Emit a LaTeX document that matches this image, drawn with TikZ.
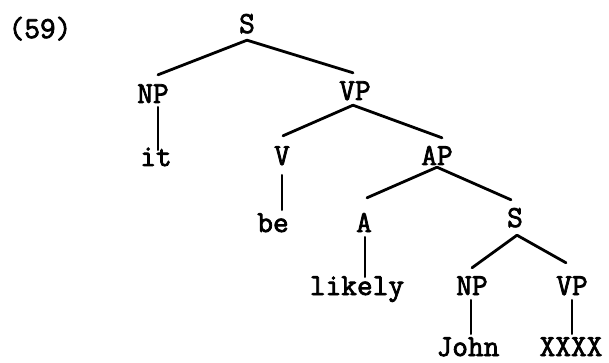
\documentclass[tikz,border=0pt]{standalone}
\usepackage{fontspec}
\newfontfamily\tyw[FakeBold=2.5]{Latin Modern Mono}
\begin{document}
\begin{tikzpicture}[x=1pt,y=-1pt,
  lab/.style={font=\tyw\fontsize{30.5}{33}\selectfont, anchor=base, inner sep=0pt, text height=16pt, text depth=0pt},
  br/.style={line width=2.8pt, line cap=round}]
\useasboundingbox (0,0) rectangle (609,363);
\node[lab] (ex) at (40,38) {(59)};
\node[lab] (S1) at (247,33) {S};
\node[lab] (NP1) at (153,103) {NP};
\node[lab] (it) at (156,166) {it};
\node[lab] (VP1) at (355,100) {VP};
\node[lab] (V) at (282,165) {V};
\node[lab] (AP) at (437,165) {AP};
\node[lab] (be) at (273,232) {be};
\node[lab] (A) at (364,232) {A};
\node[lab] (S2) at (515,227) {S};
\node[lab] (likely) at (357,295) {likely};
\node[lab] (NP2) at (472,295) {NP};
\node[lab] (VP2) at (572,295) {VP};
\node[lab] (John) at (468,356) {John};
\node[lab] (X) at (571,356) {XXXX};
% branches
\draw[br] ([yshift=-7pt]S1.south) -- ([xshift=5pt,yshift=12pt]NP1.north);
\draw[br] ([yshift=-7pt]S1.south) -- ([xshift=-2pt,yshift=11pt]VP1.north);
\draw[br] ([xshift=5pt,yshift=-4pt]NP1.south) -- ([xshift=2pt]it.north);
\draw[br] ([xshift=-2pt,yshift=-5pt]VP1.south) -- ([xshift=1pt,yshift=13pt]V.north);
\draw[br] ([xshift=-2pt,yshift=-5pt]VP1.south) -- ([xshift=5pt,yshift=11pt]AP.north);
\draw[br] ([yshift=-10pt]V.south) -- ([xshift=9pt,yshift=6pt]be.north);
\draw[br] ([yshift=-2pt]AP.south) -- ([xshift=3pt,yshift=18pt]A.north);
\draw[br] ([yshift=-2pt]AP.south) -- ([xshift=-4pt,yshift=11pt]S2.north);
\draw[br] ([xshift=1pt,yshift=-5pt]A.south) -- ([xshift=8pt,yshift=2pt]likely.north);
\draw[br] ([xshift=2pt,yshift=-8pt]S2.south) -- ([yshift=11pt]NP2.north);
\draw[br] ([xshift=2pt,yshift=-8pt]S2.south) -- ([xshift=-6pt,yshift=16pt]VP2.north);
\draw[br] ([xshift=-1pt,yshift=-5pt]NP2.south) -- ([xshift=3pt,yshift=6pt]John.north);
\draw[br] ([yshift=-5pt]VP2.south) -- ([xshift=1pt,yshift=6pt]X.north);
\end{tikzpicture}
\end{document}
